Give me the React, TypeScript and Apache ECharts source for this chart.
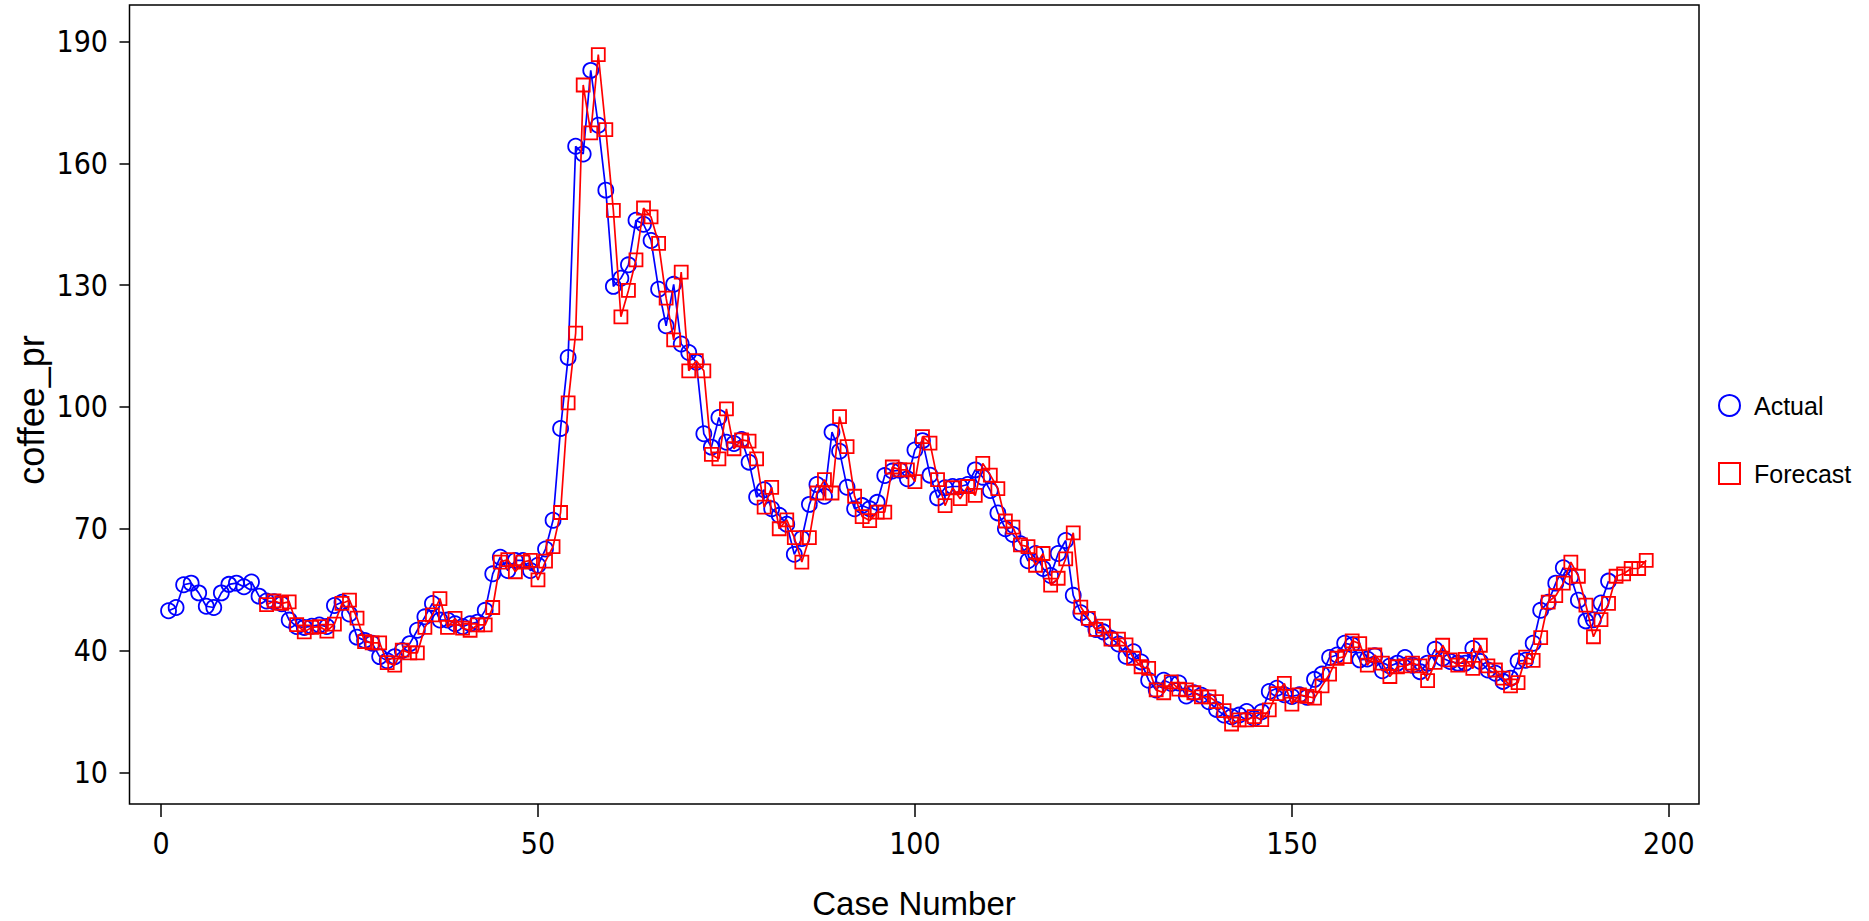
import React, { useEffect, useRef } from "react";
import * as echarts from "echarts";

// Actual coffee_pr, cases 1..192
const actualStart = 1;
const actualValues = [
  49.8, 50.6, 56.2, 56.6, 54.2, 50.9, 50.6, 54.2, 56.3, 56.6,
  55.7, 56.9, 53.4, 52.2, 52.0, 51.5, 47.5, 45.9, 45.7, 46.0,
  46.3, 45.9, 51.1, 51.9, 49.0, 43.3, 42.5, 41.8, 38.5, 37.5,
  38.5, 40.0, 41.7, 45.0, 48.3, 51.6, 47.5, 47.5, 46.6, 45.9,
  46.6, 47.0, 49.9, 58.9, 63.0, 59.7, 62.2, 62.2, 59.7, 61.0,
  65.0, 72.1, 94.7, 112.2, 164.2, 162.3, 182.9, 169.4, 153.4, 129.7,
  131.7, 135.0, 146.0, 145.0, 141.0, 129.0, 120.0, 130.2, 115.5, 113.4,
  111.0, 93.4, 90.1, 97.4, 91.3, 91.0, 92.0, 86.4, 77.8, 79.6,
  74.9, 73.3, 71.1, 63.7, 67.6, 76.0, 80.9, 78.0, 93.8, 89.1,
  80.2, 74.9, 75.7, 74.9, 76.5, 83.1, 84.2, 84.4, 82.3, 89.4,
  91.7, 83.2, 77.6, 80.1, 80.4, 80.4, 80.9, 84.5, 82.7, 79.4,
  73.9, 70.0, 68.6, 66.3, 62.1, 63.9, 60.2, 58.5, 63.9, 67.1,
  53.6, 49.3, 47.7, 45.2, 44.6, 43.0, 41.6, 38.6, 39.7, 37.2,
  32.7, 30.3, 32.7, 31.9, 32.0, 28.8, 29.6, 29.0, 27.4, 25.5,
  24.1, 23.7, 24.1, 25.0, 23.3, 24.9, 29.9, 30.7, 29.1, 28.7,
  29.1, 28.5, 32.9, 34.2, 38.3, 38.9, 41.8, 41.4, 37.7, 37.9,
  38.7, 35.0, 36.2, 36.9, 38.3, 36.4, 34.8, 36.9, 40.3, 38.1,
  37.3, 36.9, 36.9, 40.5, 37.3, 35.2, 34.4, 32.4, 33.2, 37.4,
  37.6, 41.8, 49.9, 51.9, 56.6, 60.4, 58.1, 52.4, 47.3, 47.6,
  51.7, 57.1,
];

// Forecast coffee_pr, cases 14..197
const forecastStart = 14;
const forecastValues = [
  51.3, 52.2, 51.6, 52.0, 46.4, 44.6, 45.7, 45.9, 44.8, 46.5,
  51.6, 52.4, 48.0, 42.2, 41.9, 41.9, 37.0, 36.4, 40.1, 39.4,
  39.4, 45.7, 48.8, 52.8, 45.7, 47.9, 45.5, 45.0, 46.3, 46.3,
  50.6, 61.8, 62.4, 59.4, 61.8, 62.2, 57.4, 62.0, 65.6, 74.0,
  101.0, 118.2, 179.3, 167.5, 186.8, 168.3, 148.4, 122.2, 128.7, 136.2,
  149.0, 146.8, 140.3, 126.8, 116.5, 133.2, 108.9, 111.4, 108.9, 88.3,
  87.2, 99.5, 89.7, 91.9, 91.6, 87.2, 75.3, 80.2, 70.0, 72.2,
  67.8, 61.8, 67.8, 78.8, 82.1, 78.8, 97.6, 90.2, 78.0, 73.0,
  72.0, 74.1, 74.1, 85.2, 84.5, 84.5, 81.6, 92.7, 91.1, 82.1,
  75.7, 80.1, 77.4, 80.4, 78.2, 86.1, 83.2, 79.9, 71.9, 70.4,
  66.0, 65.6, 61.0, 63.9, 56.1, 57.8, 62.6, 69.0, 50.7, 47.9,
  45.2, 46.0, 42.8, 42.8, 41.4, 38.1, 36.0, 35.6, 30.3, 29.6,
  32.3, 30.5, 30.3, 29.6, 28.6, 28.6, 27.4, 25.2, 21.9, 22.9,
  22.9, 23.7, 23.0, 25.4, 29.4, 31.9, 26.8, 29.1, 28.7, 28.3,
  31.3, 34.2, 38.1, 38.5, 42.4, 41.7, 36.4, 38.9, 36.9, 33.6,
  36.0, 36.2, 36.9, 36.2, 32.6, 37.1, 41.3, 37.7, 36.4, 37.8,
  35.6, 41.3, 36.2, 35.2, 33.2, 31.3, 32.1, 38.4, 37.6, 43.2,
  51.9, 53.5, 56.6, 61.8, 58.3, 51.2, 43.4, 47.6, 51.6, 58.3,
  58.9, 60.2, 60.2, 62.2,
];

const xTicks = [0, 50, 100, 150, 200];
const yTicks = [10, 40, 70, 100, 130, 160, 190];
const seriesNames = ["Actual", "Forecast"];
const xTitle = "Case Number";
const yTitle = "coffee_pr";

const FONT = "'Liberation Sans', Arial, Helvetica, sans-serif";
const NARROW = "'Liberation Sans Narrow', 'Arial Narrow', 'DejaVu Sans Condensed', 'Liberation Sans', sans-serif";
const BLUE = "#0000ff";
const RED = "#ff0000";

export default function App() {
  const ref = useRef<HTMLDivElement>(null);

  useEffect(() => {
    if (!ref.current) return;
    const chart = echarts.init(ref.current, null, { renderer: "svg" });

    const actualData = actualValues.map((v, i) => [actualStart + i, v]);
    const forecastData = forecastValues.map((v, i) => [forecastStart + i, v]);

    chart.setOption({
      animation: false,
      backgroundColor: "#ffffff",
      textStyle: { fontFamily: FONT },
      grid: {
        left: 129.5,
        top: 5,
        width: 1569.5,
        height: 799,
        show: true,
        borderColor: "#000000",
        borderWidth: 1.5,
        backgroundColor: "transparent",
        containLabel: false,
      },
      xAxis: {
        type: "value",
        min: -4.18,
        max: 204.0,
        axisLine: { show: false, onZero: false },
        splitLine: { show: false },
        axisTick: {
          show: true,
          length: 13,
          customValues: xTicks,
          lineStyle: { color: "#000", width: 1.5 },
        },
        axisLabel: {
          customValues: xTicks,
          fontSize: 30,
          color: "#000",
          margin: 24,
          fontFamily: NARROW,
        },
      },
      yAxis: {
        type: "value",
        min: 2.2,
        max: 199.0,
        axisLine: { show: false, onZero: false },
        splitLine: { show: false },
        axisTick: {
          show: true,
          length: 10,
          customValues: yTicks,
          lineStyle: { color: "#000", width: 1.5 },
        },
        axisLabel: {
          customValues: yTicks,
          fontSize: 30,
          color: "#000",
          margin: 21.5,
          fontFamily: NARROW,
        },
      },
      legend: {
        orient: "vertical",
        left: 1713,
        top: 388,
        itemWidth: 21,
        itemHeight: 21,
        itemGap: 43,
        selectedMode: false,
        textStyle: {
          fontSize: 25,
          color: "#000",
          fontFamily: FONT,
          padding: [0, 0, 0, 9],
        },
        data: [
          {
            name: seriesNames[0],
            icon: "circle",
            itemStyle: { color: "rgba(0,0,0,0)", borderColor: BLUE, borderWidth: 2 },
          },
          {
            name: seriesNames[1],
            icon: "rect",
            itemStyle: { color: "rgba(0,0,0,0)", borderColor: RED, borderWidth: 2 },
          },
        ],
      },
      graphic: [
        {
          type: "text",
          x: 31,
          y: 410,
          rotation: Math.PI / 2,
          style: {
            text: yTitle,
            font: `36px ${FONT}`,
            fill: "#000",
            align: "center",
            verticalAlign: "middle",
          },
        },
        {
          type: "text",
          x: 914,
          y: 903,
          style: {
            text: xTitle,
            font: `33px ${FONT}`,
            fill: "#000",
            align: "center",
            verticalAlign: "middle",
          },
        },
      ],
      series: [
        {
          name: seriesNames[0],
          type: "line",
          data: actualData,
          symbol: "circle",
          symbolSize: 15,
          showAllSymbol: true,
          itemStyle: { color: "rgba(0,0,0,0)", borderColor: BLUE, borderWidth: 1.8 },
          lineStyle: { color: BLUE, width: 1.7 },
          emphasis: { disabled: true },
          z: 2,
        },
        {
          name: seriesNames[1],
          type: "line",
          data: forecastData,
          symbol: "rect",
          symbolSize: 13,
          showAllSymbol: true,
          itemStyle: { color: "rgba(0,0,0,0)", borderColor: RED, borderWidth: 1.8 },
          lineStyle: { color: RED, width: 1.7 },
          emphasis: { disabled: true },
          z: 3,
        },
      ],
    });

    return () => chart.dispose();
  }, []);

  return (
    <div
      ref={ref}
      style={{ position: "fixed", left: 0, top: 0, width: 1869, height: 921 }}
    />
  );
}
